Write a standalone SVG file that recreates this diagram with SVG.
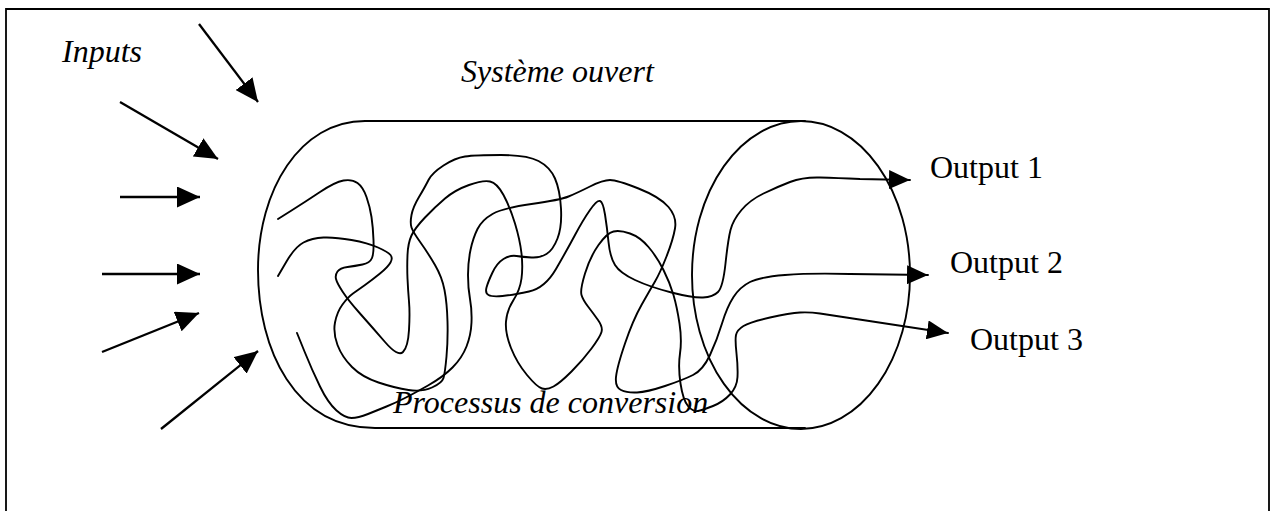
<svg xmlns="http://www.w3.org/2000/svg" width="1274" height="511" viewBox="0 0 1274 511">
<style>
.t{font-family:"Liberation Serif","Times New Roman",serif;font-size:32px;fill:#000}
.i{font-style:italic}
.ln{fill:none;stroke:#000;stroke-width:1.9;stroke-linejoin:round;stroke-linecap:round}
.ar{fill:none;stroke:#000;stroke-width:2.3}
.bd{fill:none;stroke:#000;stroke-width:1.8}
</style>
<defs>
<marker id="hIn" markerUnits="userSpaceOnUse" markerWidth="23" markerHeight="21" refX="23" refY="10.5" orient="auto">
<path d="M0,0 L23,10.5 L0,21 z" fill="#000"/>
</marker>
<marker id="hOut" markerUnits="userSpaceOnUse" markerWidth="21" markerHeight="19" refX="21" refY="9.5" orient="auto">
<path d="M0,0 L21,9.5 L0,19 z" fill="#000"/>
</marker>
</defs>
<rect width="1274" height="511" fill="#fff"/>
<path class="bd" d="M6,511 L6,9 L1269,9 L1269,511"/>
<g id="systeme">
<path class="ln" d="M805,121 L365,121 C300,121 258,190 258,270 C258,350 295,428 375,428 L805,428"/>
<ellipse class="ln" cx="801" cy="275" rx="109" ry="154"/>
</g>
<g id="labels">
<text class="t i" x="62" y="62">Inputs</text>
<text class="t i" x="461" y="82">Système ouvert</text>
<text class="t i" x="393" y="413">Processus de conversion</text>
<text class="t" x="930" y="178">Output 1</text>
<text class="t" x="950" y="273">Output 2</text>
<text class="t" x="970" y="350">Output 3</text>
</g>
<g id="connectors">
<line class="ar" x1="199" y1="24" x2="258" y2="102" marker-end="url(#hIn)"/>
<line class="ar" x1="120" y1="102" x2="218" y2="159" marker-end="url(#hIn)"/>
<line class="ar" x1="120" y1="197" x2="200" y2="197" marker-end="url(#hIn)"/>
<line class="ar" x1="102" y1="274" x2="200" y2="274" marker-end="url(#hIn)"/>
<line class="ar" x1="102" y1="352" x2="199" y2="313" marker-end="url(#hIn)"/>
<line class="ar" x1="161" y1="429" x2="258" y2="351" marker-end="url(#hIn)"/>
<path class="ln" marker-end="url(#hOut)" d="M278,219 L291.5,210.5 Q305,202 320,192 Q335,182 343.5,180.5 Q352,179 357.5,183 Q363,187 366.5,197 Q370,207 371.5,217 Q373,227 373.5,240 Q374,253 372,258 Q370,263 362.5,264.5 Q355,266 347.5,267 Q340,268 337.5,271.5 Q335,275 336,279 Q337,283 342.5,291.5 Q348,300 360,313.5 Q372,327 385,342 Q398,357 403,352 Q408,347 409,330 Q410,313 409,301.5 Q408,290 407.5,278.5 Q407,267 407.5,255 Q408,243 411.5,235.5 Q415,228 425,217.5 Q435,207 445,198.5 Q455,190 469,185 Q483,180 490,181.5 Q497,183 503.5,195 Q510,207 515,223.5 Q520,240 521.5,253.5 Q523,267 521.5,278.5 Q520,290 513.5,300 Q507,310 506,321.5 Q505,333 511,348 Q517,363 527,375 Q537,387 542,388.5 Q547,390 553.5,386.5 Q560,383 571.5,371.5 Q583,360 591.5,348.5 Q600,337 601.5,332 Q603,327 598,320 Q593,313 588,306.5 Q583,300 581.5,295 Q580,290 585,273.5 Q590,257 598.5,245 Q607,233 613.5,231.5 Q620,230 630,233.5 Q640,237 648.5,247 Q657,257 663.5,270 Q670,283 673.5,295 Q677,307 679.5,323.5 Q682,340 680,353.5 Q678,367 680.5,383.5 Q683,400 688,406 Q693,412 698,411 Q703,410 713,406 Q723,402 730,394.5 Q737,387 737.5,377 Q738,367 736.5,353.5 Q735,340 736,335 Q737,330 743.5,326 Q750,322 770,317.5 Q790,313 800,312.5 Q810,312 820,313.5 L948,333"/>
<path class="ln" marker-end="url(#hOut)" d="M278,276 L286.5,261.5 Q295,247 303.5,242.5 Q312,238 323.5,237.5 Q335,237 351.5,240 Q368,243 378,247.5 Q388,252 390.5,255 Q393,258 390.5,262.5 Q388,267 380,273.5 Q372,280 365,285 Q358,290 353,293.5 Q348,297 342.5,304.5 Q337,312 335,322.5 Q333,333 337.5,345 Q342,357 352,367 Q362,377 378.5,382.5 Q395,388 408.5,390 Q422,392 432,387.5 Q442,383 443.5,378 Q445,373 446.5,356.5 Q448,340 447.5,321.5 Q447,303 444.5,290 Q442,277 435,265 Q428,253 420.5,242.5 Q413,232 411.5,227.5 Q410,223 411.5,215 Q413,207 419,197 Q425,187 428.5,180 Q432,173 443.5,165.5 Q455,158 465,156.5 Q475,155 501,155 Q527,155 538.5,161 Q550,167 555,178.5 Q560,190 561,208.5 Q562,227 557.5,238.5 Q553,250 546.5,254 Q540,258 531.5,257.5 Q523,257 516.5,256 Q510,255 503.5,259 Q497,263 492.5,272.5 Q488,282 486.5,287.5 Q485,293 488.5,295 Q492,297 502.5,296 Q513,295 529,291.5 Q545,288 556,269 Q567,250 575,235 Q583,220 590,210 Q597,200 600,201 Q603,202 605,214.5 Q607,227 608.5,242 Q610,257 615,265 Q620,273 635,280 Q650,287 671.5,292.5 Q693,298 703,297.5 Q713,297 718,292 Q723,287 725.5,263.5 Q728,240 730.5,230 Q733,220 741.5,210 Q750,200 763.5,193.5 Q777,187 790,182 Q803,177 820,177.5 Q837,178 860,179 L910,180"/>
<path class="ln" marker-end="url(#hOut)" d="M297,333 L304.5,351.5 Q312,370 320,386.5 Q328,403 336.5,410.5 Q345,418 351.5,418 Q358,418 368,414 Q378,410 386.5,406.5 Q395,403 404,398.5 Q413,394 428,385.5 Q443,377 452.5,367.5 Q462,358 466.5,346.5 Q471,335 471.5,322.5 Q472,310 470,299 Q468,288 468,275 Q468,262 470.5,250 Q473,238 477.5,229 Q482,220 492.5,214 Q503,208 531.5,204 Q560,200 568.5,196.5 Q577,193 590,186.5 Q603,180 610,180 Q617,180 638.5,188.5 Q660,197 668.5,207 Q677,217 675,228.5 Q673,240 666.5,256.5 Q660,273 655,281.5 Q650,290 641.5,305 Q633,320 625,343.5 Q617,367 616,377 Q615,387 621,390 Q627,393 637,392.5 Q647,392 665,386 Q683,380 693,375 Q703,370 710,355 Q717,340 722,323.5 Q727,307 733.5,297 Q740,287 750,282 Q760,277 785,275 Q810,273 850,274 L928,275"/>
</g>
</svg>
